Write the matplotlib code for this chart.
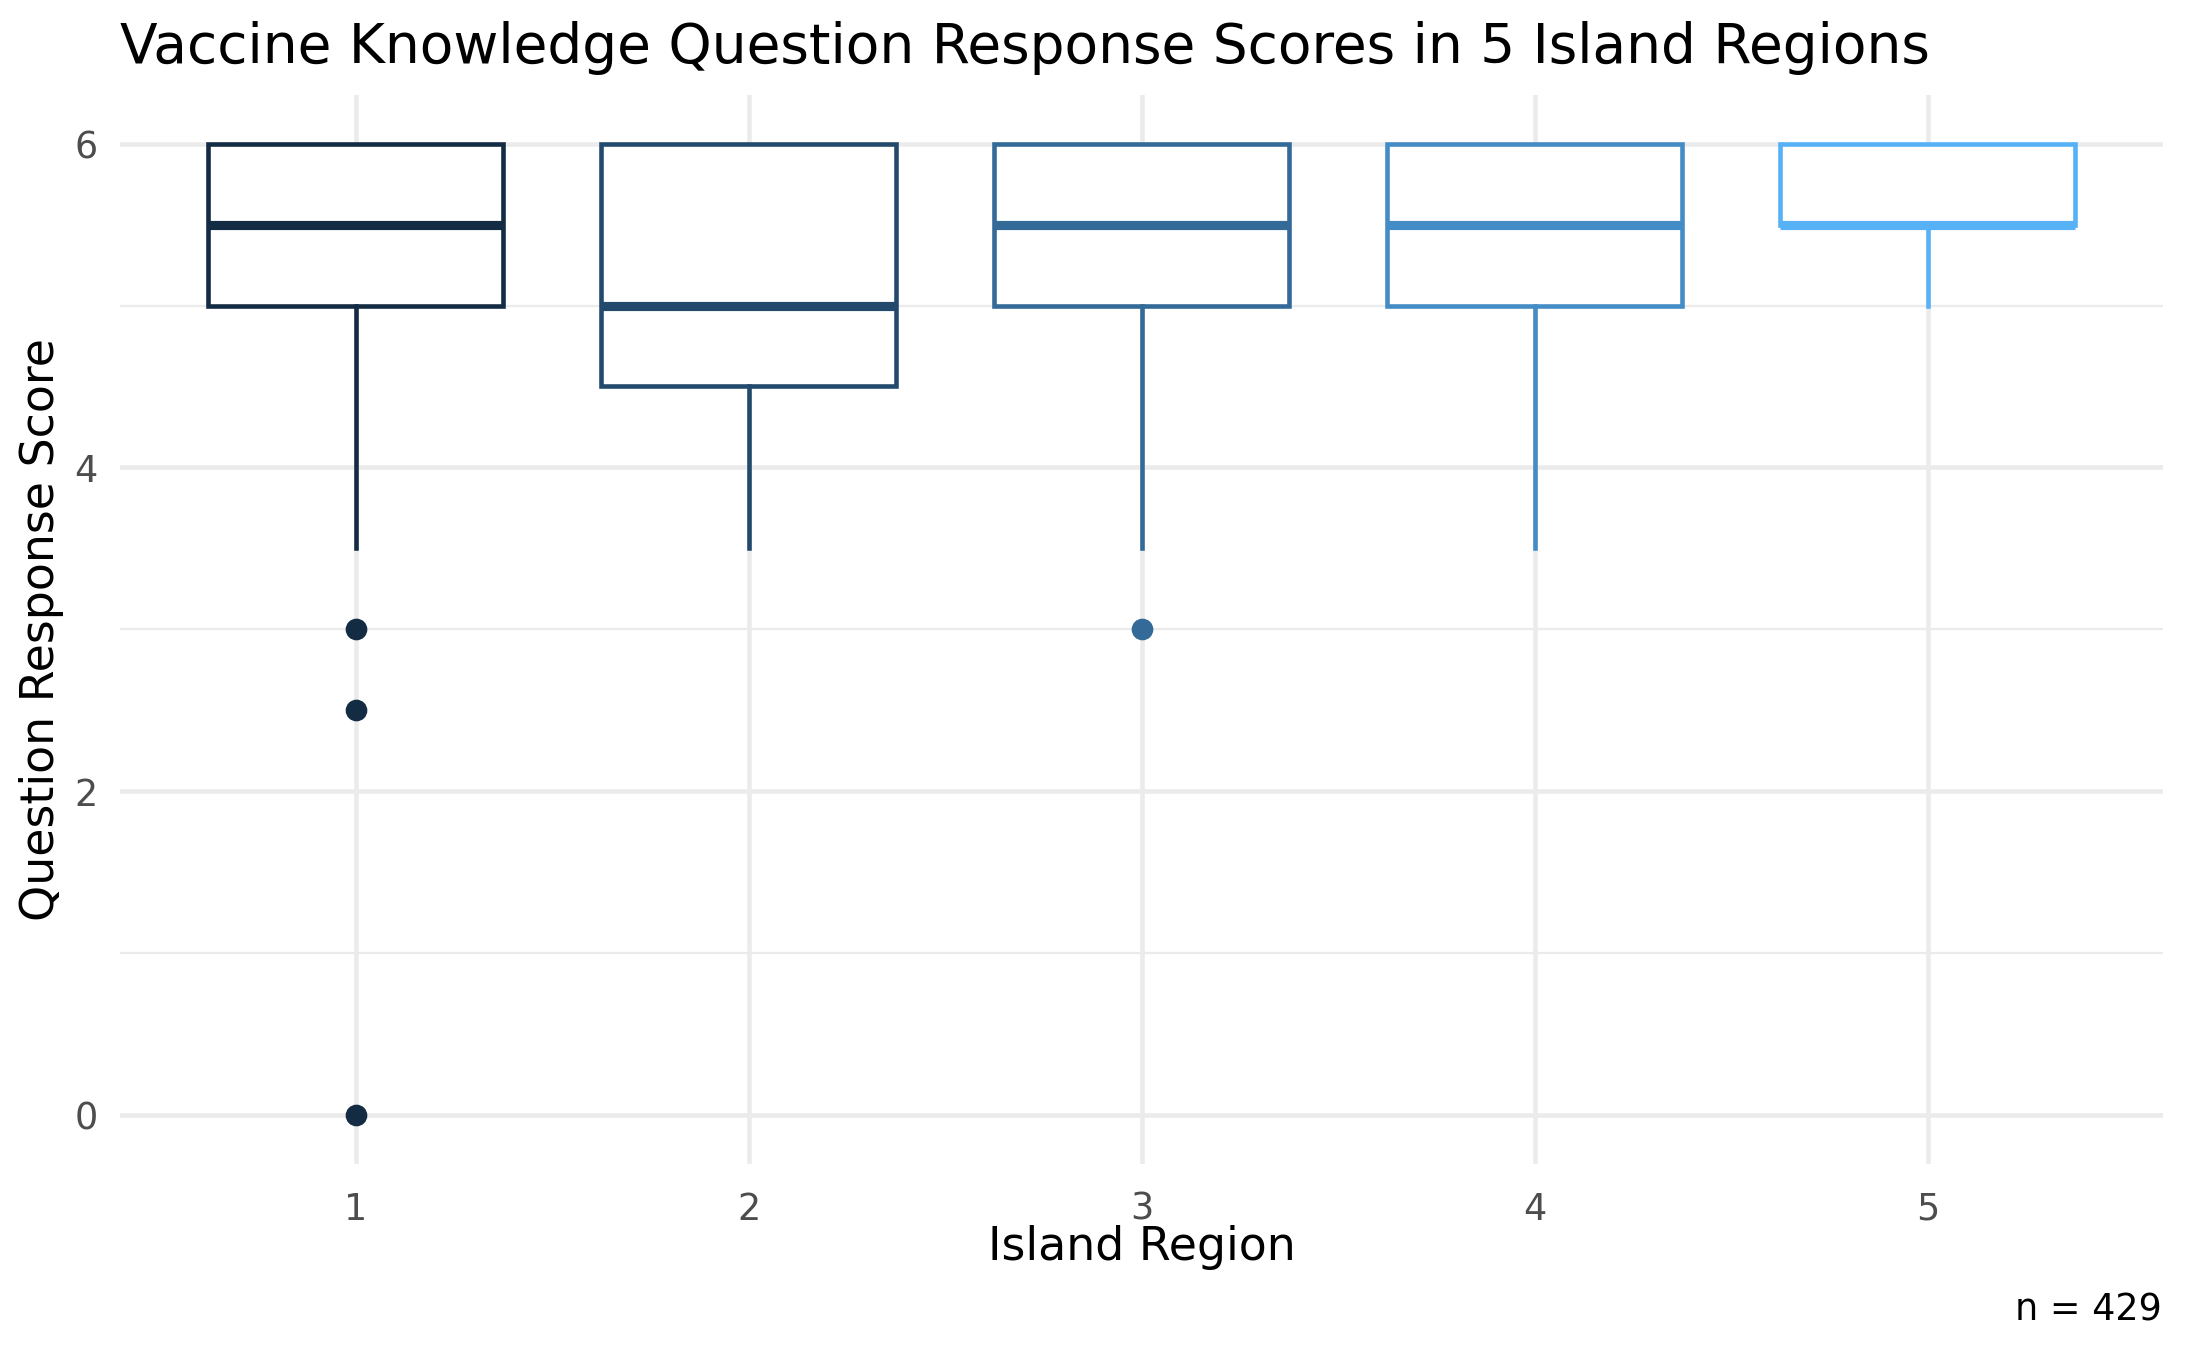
import matplotlib
matplotlib.use("Agg")
import matplotlib.pyplot as plt

# --- data ---
regions = [1, 2, 3, 4, 5]
whisker_lo = [3.5, 3.5, 3.5, 3.5, 5.0]
q1 = [5.0, 4.5, 5.0, 5.0, 5.5]
median = [5.5, 5.0, 5.5, 5.5, 5.5]
q3 = [6.0, 6.0, 6.0, 6.0, 6.0]
whisker_hi = [6.0, 6.0, 6.0, 6.0, 6.0]
outliers = [[3.0, 2.5, 0.0], [], [3.0], [], []]
n_total = 429

colors = ["#132B43", "#234A6D", "#336A98", "#448CC6", "#56B1F7"]

plt.rcParams["font.family"] = "DejaVu Sans"

fig = plt.figure(figsize=(7.29, 4.5), dpi=300)
ax = fig.add_axes([0.0548, 0.1381, 0.9344, 0.7915])

stats = []
for i, r in enumerate(regions):
    stats.append({"label": str(r), "whislo": whisker_lo[i], "q1": q1[i], "med": median[i],
                  "q3": q3[i], "whishi": whisker_hi[i], "fliers": outliers[i]})

box_lw = 1.1
for i, st in enumerate(stats):
    c = colors[i]
    ax.bxp([st], positions=[regions[i]], widths=0.75, showcaps=False, patch_artist=True,
           boxprops=dict(facecolor="white", edgecolor=c, linewidth=box_lw),
           medianprops=dict(color=c, linewidth=box_lw * 2, solid_capstyle="butt"),
           whiskerprops=dict(color=c, linewidth=box_lw),
           flierprops=dict(marker="o", markerfacecolor=c, markeredgecolor=c,
                           markersize=4.6, markeredgewidth=0.6),
           zorder=3)

ax.set_xlim(0.4, 5.6)
ax.set_ylim(-0.3, 6.3)
ax.set_xticks(regions)
ax.set_xticklabels([str(r) for r in regions])
ax.set_yticks([0, 2, 4, 6])
ax.set_yticks([1, 3, 5], minor=True)

ax.grid(True, which="major", color="#EBEBEB", linewidth=1.1, zorder=0)
ax.grid(True, which="minor", axis="y", color="#EBEBEB", linewidth=0.55, zorder=0)
ax.set_axisbelow(True)
for s in ax.spines.values():
    s.set_visible(False)
ax.tick_params(which="both", length=0)
ax.tick_params(axis="x", pad=6.5, labelsize=8.8, labelcolor="#4D4D4D")
ax.tick_params(axis="y", pad=5.3, labelsize=8.8, labelcolor="#4D4D4D")

fig.text(0.0548, 0.953, "Vaccine Knowledge Question Response Scores in 5 Island Regions",
         fontsize=13.2, ha="left", va="baseline", color="black")
fig.text(0.0548 + 0.9344 / 2, 0.0666, "Island Region", fontsize=11, ha="center",
         va="baseline", color="black")
fig.text(0.0191, 0.1381 + 0.7915 / 2, "Question Response Score", fontsize=11,
         rotation=90, ha="center", va="center", color="black")
fig.text(0.9886, 0.0215, f"n = {n_total}", fontsize=8.8, ha="right", va="baseline",
         color="black")

fig.savefig("out.png", dpi=300, facecolor="white")
